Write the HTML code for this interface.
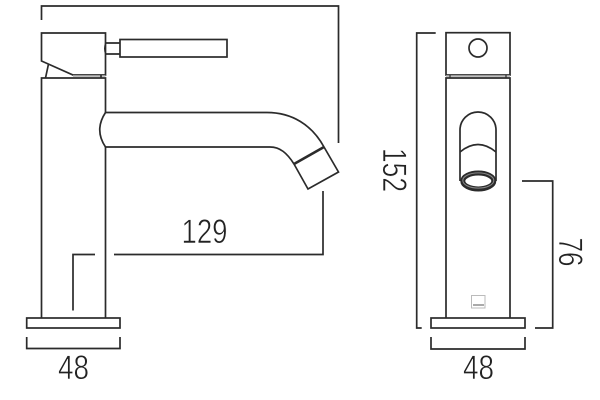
<!DOCTYPE html>
<html><head><meta charset="utf-8"><style>
html,body{margin:0;padding:0;background:#fff;width:600px;height:400px;overflow:hidden}
svg{display:block}
text{font-family:"Liberation Sans",sans-serif;font-size:34px;fill:#222;stroke:#fff;stroke-width:.6px;text-anchor:middle;text-rendering:geometricPrecision}
</style></head><body>
<svg width="600" height="400" viewBox="0 0 600 400" xmlns="http://www.w3.org/2000/svg">
<g fill="none" stroke="#2b2b2b" stroke-width="1.7">
<!-- left dims -->
<path d="M41.5 20V6H338.5V143"/>
<path d="M323 191V254.5H114"/>
<path d="M95 254.5H73V310.5"/>
<path d="M26.7 337V348.5H120V337"/>
<!-- left tap -->
<path d="M41.5 33H105.5V75H73L41.5 61Z"/>
<path d="M48.5 64L45.5 78"/>
<path d="M73 75.8H105.5" stroke="#999"/>
<path d="M101 75V78"/>
<path d="M41.5 318V78H105.5V113M105.5 147V318"/>
<path d="M105.5 43H120M105.5 54H120"/>
<path d="M105.5 43Q103.5 48.5 105.5 54" stroke-width="1"/>
<rect x="120" y="39.5" width="107" height="17.5"/>
<path d="M105.5 112.5H267C292 112.5 312 125 324 147L338.5 172L308 189L294 164C287 153 280 147 270 147H105.5"/>
<path d="M105.5 112.5Q94 130 105.5 147"/>
<path d="M294 164L324 147" stroke-width="2.6"/>
<rect x="26.7" y="318" width="93.3" height="10"/>
<!-- right dims -->
<path d="M435.7 33H416.7V328H421.7"/>
<path d="M522 181H552.7V328H535"/>
<path d="M431 337V349H525V337"/>
<!-- right tap -->
<rect x="446" y="32.7" width="64" height="42.3"/>
<circle cx="478" cy="48" r="9"/>
<path d="M446 318V78H510V318"/>
<path d="M446 75.8H510" stroke="#999"/>
<path d="M450 75V78M506 75V78" stroke-width="1.2"/>
<path d="M460 181V130A18 18 0 0 1 496 130V181"/>
<path d="M460 152Q478 137 496 152"/>
<rect x="431" y="318" width="94" height="10"/>
<ellipse cx="478.3" cy="181" rx="15.5" ry="8" stroke-width="5"/>
<ellipse cx="478.3" cy="180.5" rx="15.5" ry="7.6" stroke="#888" stroke-width="1"/>
<rect x="471.5" y="295.5" width="13.5" height="12.5" stroke="#bbb" stroke-width="1"/>
<path d="M473 305H484" stroke="#aaa" stroke-width="2"/>
</g>
<text x="204.5" y="243" textLength="46" lengthAdjust="spacingAndGlyphs">129</text>
<text x="73.5" y="379" textLength="31" lengthAdjust="spacingAndGlyphs">48</text>
<text x="478.5" y="379" textLength="31" lengthAdjust="spacingAndGlyphs">48</text>
<text transform="translate(383 170) rotate(90)" textLength="44" lengthAdjust="spacingAndGlyphs">152</text>
<text transform="translate(559 252) rotate(90)" textLength="29" lengthAdjust="spacingAndGlyphs">76</text>
</svg>
</body></html>
